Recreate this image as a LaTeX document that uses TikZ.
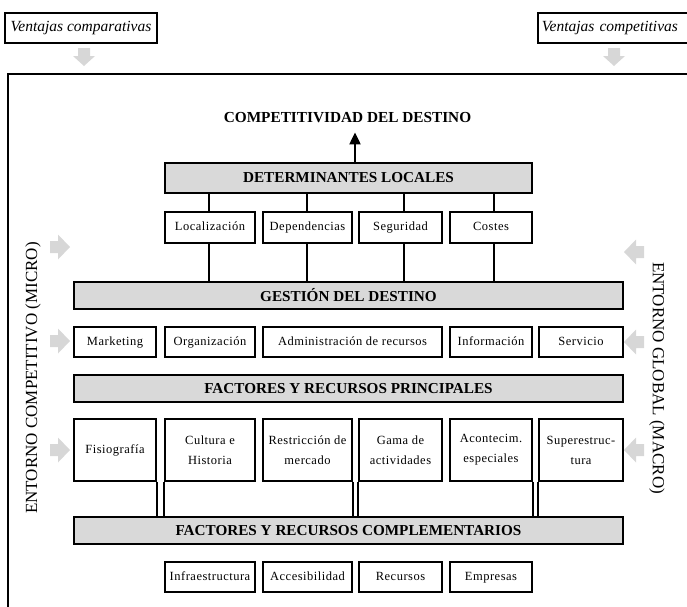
\documentclass[tikz,border=0pt]{standalone}
\usepackage{fontspec}
\setmainfont{Liberation Serif}
\newfontfamily\boxfont[LetterSpace=4]{Liberation Serif}
\usetikzlibrary{calc,arrows.meta}
\definecolor{boxgray}{RGB}{217,217,217}
\definecolor{arrowgray}{RGB}{215,215,215}
\newcommand\mkbox[7]{%
  \pgfmathsetmacro\mybw{#4-#2}\pgfmathsetmacro\mybh{#5-#3}%
  \node[#6, minimum width=\mybw pt, minimum height=\mybh pt] (#1) at ({(#2+#4)/2},{(#3+#5)/2}) {#7};}
\newcommand\downarr[2]{%
  \fill[arrowgray] ({#1-6},#2) -- ({#1+6},#2) -- ({#1+6},{#2+8}) -- ({#1+11},{#2+8}) -- (#1,{#2+18}) -- ({#1-11},{#2+8}) -- ({#1-6},{#2+8}) -- cycle;}
\newcommand\rightarr[2]{%
  \fill[arrowgray] (#1,{#2-6}) -- ({#1+8},{#2-6}) -- ({#1+8},{#2-12.5}) -- ({#1+20},#2) -- ({#1+8},{#2+12.5}) -- ({#1+8},{#2+6}) -- (#1,{#2+6}) -- cycle;}
\newcommand\leftarr[2]{%
  \fill[arrowgray] (#1,{#2-6}) -- ({#1-8},{#2-6}) -- ({#1-8},{#2-12.5}) -- ({#1-20},#2) -- ({#1-8},{#2+12.5}) -- ({#1-8},{#2+6}) -- (#1,{#2+6}) -- cycle;}
\begin{document}
\begin{tikzpicture}[x=1pt,y=-1pt,
  smallbox/.style={draw, line width=1.5pt, inner sep=0pt, align=center, font=\boxfont\fontsize{12.5}{20}\selectfont},
  onel/.style={smallbox, text height=8.6pt, text depth=2.6pt},
  graybox/.style={draw, fill=boxgray, line width=2pt, inner sep=0pt, font=\bfseries\fontsize{15.2}{18}\selectfont},
  vbox/.style={draw, line width=1.8pt, inner sep=0pt, font=\itshape\fontsize{15.5}{18}\selectfont},
  conn/.style={line width=2pt},
  sidelabel/.style={font=\fontsize{17}{20}\selectfont, inner sep=0pt}]
\useasboundingbox (0,0) rectangle (687,606);
\clip (0,0) rectangle (687,606);
% outer frame
\draw[line width=2pt] (8,640) -- (8,74) -- (720,74);
% top boxes
\mkbox{vcomp}{5}{13}{157}{43}{vbox}{Ventajas comparativas}
\node[vbox, anchor=west, minimum height=30pt, text width=170pt, align=left, inner xsep=4pt] (vcompet) at (537,28) {Ventajas competitivas};
\downarr{84}{48}
\downarr{614}{48}
% title
\node[font=\bfseries\fontsize{15.3}{18}\selectfont, inner sep=0pt] (comp) at (347.5,118) {COMPETITIVIDAD DEL DESTINO};
% determinantes
\mkbox{det}{165}{163}{532}{193}{graybox}{DETERMINANTES LOCALES}
\mkbox{loc}{165}{212}{255}{243}{onel}{Localización}
\mkbox{dep}{263}{212}{352}{243}{onel}{Dependencias}
\mkbox{seg}{359}{212}{442}{243}{onel}{Seguridad}
\mkbox{cos}{450}{212}{532}{243}{onel}{Costes}
% gestion
\mkbox{ges}{74}{282}{623}{309}{graybox}{GESTIÓN DEL DESTINO}
\mkbox{mkt}{74}{327}{156}{357}{onel}{Marketing}
\mkbox{org}{165}{327}{255}{357}{onel}{Organización}
\mkbox{adm}{263}{327}{442}{357}{onel}{Administración de recursos}
\mkbox{inf}{450}{327}{532}{357}{onel}{Información}
\mkbox{ser}{539}{327}{623}{357}{onel}{Servicio}
% principales
\mkbox{fpr}{74}{375}{623}{402}{graybox}{FACTORES Y RECURSOS PRINCIPALES}
\mkbox{fis}{74}{419}{156}{481}{onel}{Fisiografía}
\mkbox{cul}{165}{419}{255}{481}{smallbox}{Cultura e\\Historia}
\mkbox{res}{263}{419}{352}{481}{smallbox}{Restricción de\\mercado}
\mkbox{gam}{359}{419}{442}{481}{smallbox}{Gama de\\actividades}
\mkbox{aco}{450}{419}{532}{481}{smallbox}{Acontecim.\\especiales}
\mkbox{sup}{539}{419}{623}{481}{smallbox}{Superestruc-\\tura}
% complementarios
\mkbox{fco}{74}{517}{623}{544}{graybox}{FACTORES Y RECURSOS COMPLEMENTARIOS}
\mkbox{infr}{165}{562}{255}{592}{onel}{Infraestructura}
\mkbox{acc}{263}{562}{352}{592}{onel}{Accesibilidad}
\mkbox{rec}{359}{562}{442}{592}{onel}{Recursos}
\mkbox{emp}{450}{562}{532}{592}{onel}{Empresas}
% up arrow
\draw[line width=2pt, -{Triangle[length=12pt,width=11pt]}, shorten >=9pt] ([xshift=6.5pt]det.north) -- ([xshift=6.5pt]det.north |- comp.south);
% connectors det -> row1 -> ges
\foreach \n/\s in {loc/-1, dep/-0.5, seg/3.5, cos/3}{
  \draw[conn] ([xshift=\s pt]\n.north) -- ([xshift=\s pt]\n.north |- det.south);
  \draw[conn] ([xshift=\s pt]\n.south) -- ([xshift=\s pt]\n.south |- ges.north);
}
% double lines
\foreach \n in {fis.south east, cul.south west, res.south east, gam.south west, aco.south east, sup.south west}{
  \draw[conn] (\n) -- (\n |- fco.north);
}
% side labels
\node[sidelabel, rotate=90] (micro) at (33,378) {ENTORNO COMPETITIVO (MICRO)};
\node[sidelabel, rotate=-90] (macro) at (657,378) {ENTORNO GLOBAL (MACRO)};
% side arrows
\rightarr{50}{247}
\rightarr{50}{341}
\rightarr{50}{450}
\leftarr{644}{252}
\leftarr{644}{342}
\leftarr{644}{450}
\end{tikzpicture}
\end{document}
